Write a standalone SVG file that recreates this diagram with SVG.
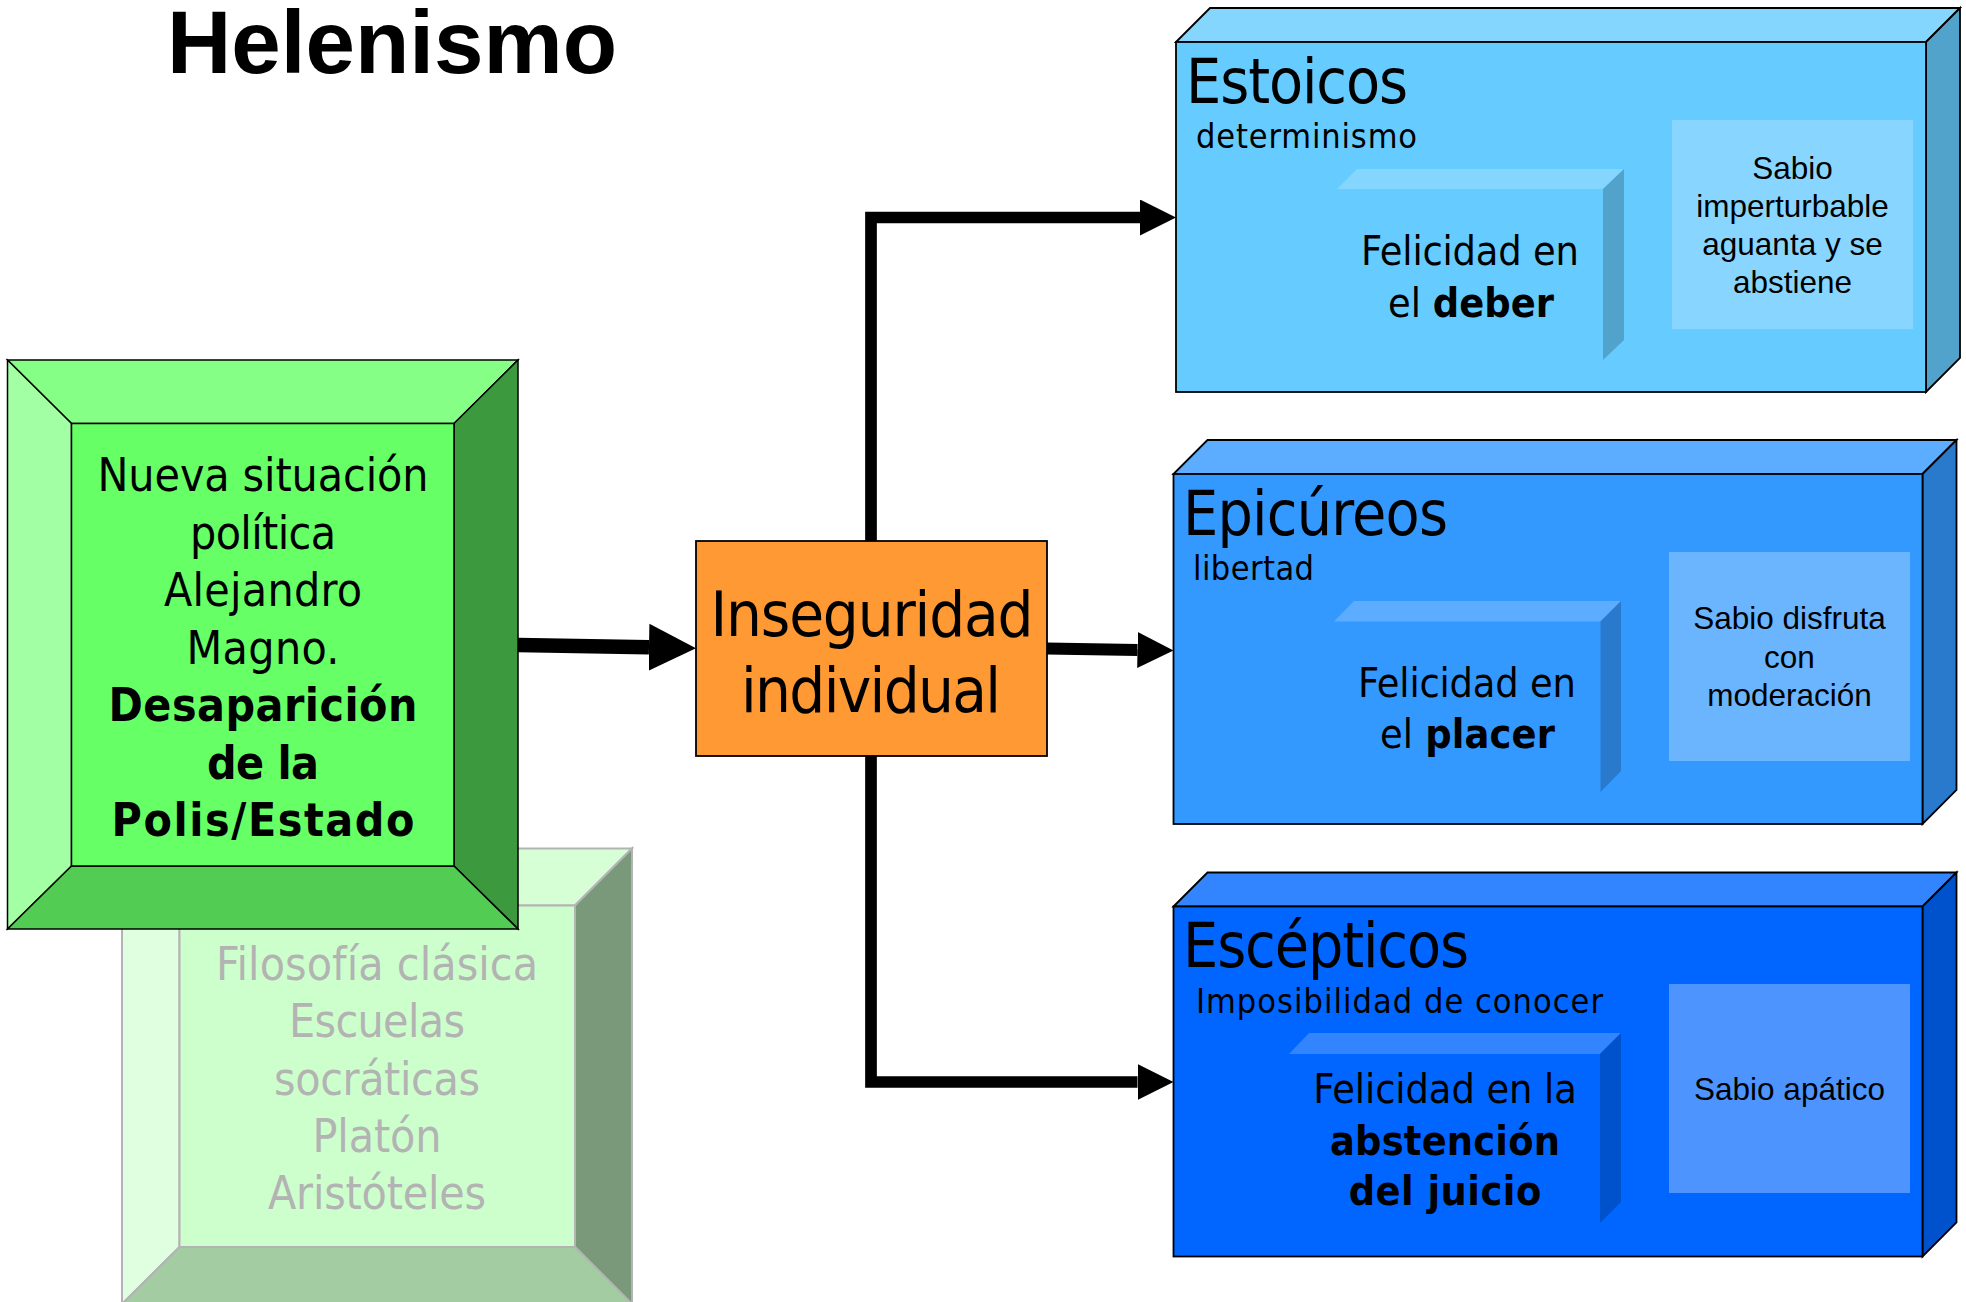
<svg xmlns="http://www.w3.org/2000/svg" width="1966" height="1302" viewBox="0 0 1966 1302">
  <style>
    .t { font-family: "DejaVu Sans Condensed", "DejaVu Sans", sans-serif; font-stretch: condensed; fill: #000; }
    .a { font-family: "Liberation Sans", Arial, sans-serif; fill: #000; }
    .b { font-weight: bold; }
    .mid { text-anchor: middle; }
    .ol { stroke: #000; stroke-width: 1.8; stroke-linejoin: miter; }
    .gol { stroke: #000; stroke-width: 1.5; stroke-linejoin: miter; }
    .fol { stroke: #b3b3b3; stroke-width: 2; stroke-linejoin: miter; }
    .conn { fill: none; stroke: #000; stroke-linejoin: miter; stroke-linecap: butt; }
    .faded { fill: #b3b3b3; }
  </style>
  <defs>
    <marker id="arrow" viewBox="0 0 10 10" refX="0" refY="5" markerWidth="36" markerHeight="36" markerUnits="userSpaceOnUse" orient="auto">
      <path d="M0,0 L10,5 L0,10 z" fill="#000"/>
    </marker>
    <marker id="arrowBig" viewBox="0 0 10 10" refX="0" refY="5" markerWidth="47" markerHeight="48" markerUnits="userSpaceOnUse" orient="auto">
      <path d="M0,0 L10,5 L0,10 z" fill="#000"/>
    </marker>
  </defs>
  <rect x="0" y="0" width="1966" height="1302" fill="#ffffff"/>

  <g id="titulo">
    <text x="392" y="73" class="a b mid" font-size="89">Helenismo</text>
  </g>

  <!-- Faded background box: filosofía clásica -->
  <g id="filosofia-clasica">
    <polygon class="fol" points="122,848.5 632,848.5 575,905.5 179.5,905.5" fill="#d6ffd6"/>
    <polygon class="fol" points="122,848.5 179.5,905.5 179.5,1247 122,1304" fill="#e0ffe0"/>
    <polygon class="fol" points="632,848.5 632,1304 575,1247 575,905.5" fill="#7a997a"/>
    <polygon class="fol" points="122,1304 179.5,1247 575,1247 632,1304" fill="#a3cca3"/>
    <rect class="fol" x="179.5" y="905.5" width="395.5" height="341.5" fill="#ccffcc"/>
    <text class="t faded mid" font-size="46" x="377" y="980" textLength="322">Filosofía clásica</text>
    <text class="t faded mid" font-size="46" x="377" y="1037" textLength="176">Escuelas</text>
    <text class="t faded mid" font-size="46" x="377" y="1095" textLength="206">socráticas</text>
    <text class="t faded mid" font-size="46" x="377" y="1152" textLength="129">Platón</text>
    <text class="t faded mid" font-size="46" x="377" y="1209" textLength="218">Aristóteles</text>
  </g>

  <!-- Green bevel box -->
  <g id="nueva-situacion">
    <polygon class="gol" points="7.5,360 518,360 454,423.5 71.5,423.5" fill="#85ff85"/>
    <polygon class="gol" points="7.5,360 71.5,423.5 71.5,866 7.5,929" fill="#a3ffa3"/>
    <polygon class="gol" points="518,360 518,929 454,866 454,423.5" fill="#3d993d"/>
    <polygon class="gol" points="7.5,929 71.5,866 454,866 518,929" fill="#52cc52"/>
    <rect class="gol" x="71.5" y="423.5" width="382.5" height="442.5" fill="#66ff66"/>
    <text class="t mid" font-size="46" x="263" y="491" textLength="331">Nueva situación</text>
    <text class="t mid" font-size="46" x="263" y="548.5" textLength="146">política</text>
    <text class="t mid" font-size="46" x="263" y="606" textLength="198">Alejandro</text>
    <text class="t mid" font-size="46" x="263" y="663.5" textLength="153">Magno.</text>
    <text class="t b mid" font-size="46" x="263" y="721" textLength="309">Desaparición</text>
    <text class="t b mid" font-size="46" x="263" y="778.5" textLength="112">de la</text>
    <text class="t b mid" font-size="46" x="263" y="836" textLength="303">Polis/Estado</text>
  </g>

  <!-- Orange box -->
  <g id="inseguridad">
    <rect class="ol" x="696" y="541" width="351" height="215" fill="#ff9933"/>
    <text class="t mid" font-size="63" x="872" y="636" textLength="323">Inseguridad</text>
    <text class="t mid" font-size="63" x="871" y="712" textLength="260">individual</text>
  </g>

  <!-- Estoicos -->
  <g id="estoicos">
    <polygon class="ol" points="1176,42 1210,8 1960,8 1926,42" fill="#85d6ff"/>
    <polygon class="ol" points="1926,42 1960,8 1960,358 1926,392" fill="#52a3cc"/>
    <rect class="ol" x="1176" y="42" width="750" height="350" fill="#66ccff"/>
    <polygon points="1337,189 1357,169 1624,169 1603,189" fill="#85d6ff"/>
    <polygon points="1603,189 1624,169 1624,340 1603,360" fill="#52a3cc"/>
    <rect x="1672" y="120" width="241" height="209" fill="#88d6ff"/>
    <text class="t" font-size="62" x="1186" y="103" textLength="222">Estoicos</text>
    <text class="t" font-size="34" x="1196" y="148" textLength="221">determinismo</text>
    <text class="t mid" font-size="41" x="1470" y="265" textLength="218">Felicidad en</text>
    <text class="t mid" font-size="41" x="1471" y="317" textLength="166">el <tspan class="b">deber</tspan></text>
    <text class="a mid" font-size="31.5" x="1792.5" y="179">Sabio</text>
    <text class="a mid" font-size="31.5" x="1792.5" y="217">imperturbable</text>
    <text class="a mid" font-size="31.5" x="1792.5" y="255">aguanta y se</text>
    <text class="a mid" font-size="31.5" x="1792.5" y="293">abstiene</text>
  </g>

  <!-- Epicúreos -->
  <g id="epicureos">
    <polygon class="ol" points="1173.5,474 1207.5,440 1956.5,440 1922.5,474" fill="#5cadff"/>
    <polygon class="ol" points="1922.5,474 1956.5,440 1956.5,790 1922.5,824" fill="#297acc"/>
    <rect class="ol" x="1173.5" y="474" width="749" height="350" fill="#3399ff"/>
    <polygon points="1334,621.5 1354,601 1621,601 1600.5,621.5" fill="#5cadff"/>
    <polygon points="1600.5,621.5 1621,601 1621,771 1600.5,792" fill="#297acc"/>
    <rect x="1669" y="552" width="241" height="209" fill="#6bb5ff"/>
    <text class="t" font-size="62" x="1183" y="535" textLength="265">Epicúreos</text>
    <text class="t" font-size="34" x="1193" y="580" textLength="121">libertad</text>
    <text class="t mid" font-size="41" x="1467" y="697" textLength="218">Felicidad en</text>
    <text class="t mid" font-size="41" x="1467.5" y="748" textLength="175">el <tspan class="b">placer</tspan></text>
    <text class="a mid" font-size="31.5" x="1789.5" y="629">Sabio disfruta</text>
    <text class="a mid" font-size="31.5" x="1789.5" y="668">con</text>
    <text class="a mid" font-size="31.5" x="1789.5" y="706">moderación</text>
  </g>

  <!-- Escépticos -->
  <g id="escepticos">
    <polygon class="ol" points="1173.5,906.5 1207.5,872.5 1956.5,872.5 1922.5,906.5" fill="#3385ff"/>
    <polygon class="ol" points="1922.5,906.5 1956.5,872.5 1956.5,1222.5 1922.5,1256.5" fill="#0052cc"/>
    <rect class="ol" x="1173.5" y="906.5" width="749" height="350" fill="#0066ff"/>
    <polygon points="1289,1054 1309,1033 1621,1033 1600,1054" fill="#3385ff"/>
    <polygon points="1600,1054 1621,1033 1621,1202 1600,1223" fill="#0052cc"/>
    <rect x="1669" y="984" width="241" height="209" fill="#4d94ff"/>
    <text class="t" font-size="62" x="1183" y="967" textLength="286">Escépticos</text>
    <text class="t" font-size="34" x="1196" y="1013" textLength="407">Imposibilidad de conocer</text>
    <text class="t mid" font-size="41" x="1445" y="1103" textLength="263.5">Felicidad en la</text>
    <text class="t b mid" font-size="41" x="1445" y="1155" textLength="230">abstención</text>
    <text class="t b mid" font-size="41" x="1445" y="1205" textLength="192.5">del juicio</text>
    <text class="a mid" font-size="31.5" x="1789.5" y="1100">Sabio apático</text>
  </g>

  <!-- Connectors -->
  <g id="connectors">
    <path class="conn" d="M518,645 L649,647.3" stroke-width="14.5" marker-end="url(#arrowBig)"/>
    <path class="conn" d="M1047,648.5 L1137.5,650" stroke-width="12" marker-end="url(#arrow)"/>
    <path class="conn" d="M871,541 V217.5 H1140" stroke-width="11.7" marker-end="url(#arrow)"/>
    <path class="conn" d="M871,756 V1082 H1137.5" stroke-width="11.7" marker-end="url(#arrow)"/>
  </g>
</svg>
